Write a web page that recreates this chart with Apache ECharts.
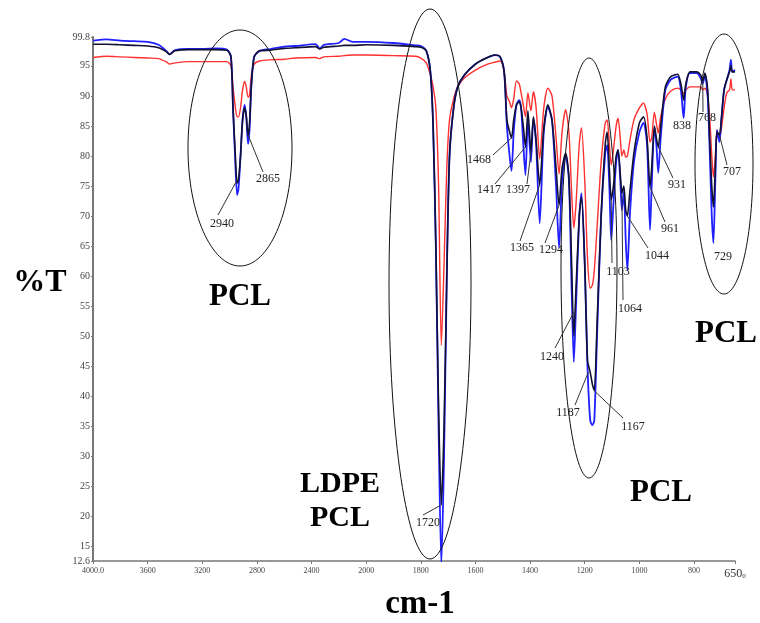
<!DOCTYPE html>
<html><head><meta charset="utf-8">
<script src="https://cdn.jsdelivr.net/npm/echarts@6/dist/echarts.min.js"></script>
<style>html,body{margin:0;padding:0;background:#fff}#c{width:760px;height:623px}</style>
</head><body><div id="c"></div>
<script>
// Wavenumbers (cm-1) and %T values of the three spectra
const wavenumbers = [4000,3900,3800,3700,3600,3520,3460,3440,3400,3300,3200,3100,3020,2990,2975,2960,2945,2935,2920,2905,2890,2878,2865,2855,2840,2820,2780,2700,2600,2520,2370,2340,2310,2200,2160,2100,2000,1900,1820,1800,1780,1765,1755,1745,1735,1725,1715,1705,1695,1680,1665,1640,1600,1560,1530,1510,1495,1485,1475,1468,1460,1450,1440,1433,1425,1417,1408,1397,1388,1378,1365,1350,1335,1320,1305,1294,1283,1270,1258,1248,1240,1232,1220,1212,1200,1190,1180,1172,1165,1155,1140,1125,1118,1110,1103,1095,1085,1078,1070,1064,1057,1050,1044,1035,1020,1000,985,972,961,955,945,938,931,922,905,885,860,848,838,830,815,790,776,768,760,750,742,735,729,722,716,707,700,690,680,670,665,660,650];
const tBlue = [99.2,99.4,99.2,99.1,99.0,98.5,97.4,96.9,97.6,97.8,97.8,97.9,97.7,96.5,88,80,73.5,74.5,80,86,88.5,86.5,82,84,92,96.5,97.5,97.8,98.2,98.3,98.6,97.9,98.5,98.8,99.5,99.0,99.0,98.8,98.4,98.3,97.5,94,85,65,35,12,30,60,80,88,91.5,93.5,95.3,96.3,96.8,96.5,94,85,80,77.5,84,88.5,89.3,88,82,76.8,86,79,86.3,82,68.8,84,88.2,86,75,64.7,76,80.2,76,58,45.7,55,70,73.8,62,45,36,35.2,36,50,70,80.5,81.8,75,66,72,79,81,76,71,74,66,61,70,79,84,85.5,82,67.7,75,84.8,82,77.2,83,91,92.7,93.2,91,86.3,91.5,93.8,93.8,93,92,93.5,90,80,70,65.5,76,84.3,82.3,86,91,92.7,94.3,96,94,94.3];
const tBlack = [98.6,98.6,98.5,98.4,98.3,98.0,97.3,96.9,97.5,97.7,97.7,97.7,97.6,96.5,88,81,75.5,76,80,86,88,86.7,83.5,85,92,96.5,97.5,97.6,97.9,98.0,98.2,97.8,98.1,98.3,98.4,98.4,98.5,98.4,98.2,98.1,97.5,94,85,65,38,22,35,60,80,88,91.5,93.5,95.3,96.3,96.8,96.5,94,86,84,83,86,88.5,89,88,85,81.5,87.5,80.7,86.5,82.5,75.2,84.5,88.5,86,78,71.8,78,80.5,76.5,62,50,58,70,73.2,62,46,44,42,41,52,70,82,84,78,72.7,75,80,81,77,73.8,75,71,70,74,80.5,85.5,86.5,83,74.8,78,85,83,81.5,85,91.5,93.2,93.6,92,89.3,92,94,94,93.5,92.5,93.8,91,82,75,71.5,78,84,83.5,86,91,92.7,94,95,94,94];
const tRed = [96.4,96.6,96.5,96.4,96.3,96.2,95.6,95.3,95.5,95.7,95.7,95.7,95.7,95.0,91.5,88.5,86.5,86.5,88,91,92.4,91.5,89.8,90,93.5,95.3,95.8,96.0,96.1,96.3,96.4,96.2,96.5,96.6,96.7,96.8,96.8,96.7,96.6,96.3,95.5,93.5,91.5,88,75,48.5,62,78,86,89.5,91.5,93,94.3,95.2,95.6,95.8,94,90,89,88,89.5,92.5,92,90.5,88.5,86.5,90.5,87.5,90.7,88,79.5,88,91.3,90,83,77,84,87.7,84,74,68,72,82,84.7,76,63,58,58.5,61,68,79,85.5,86,82,78.5,81,85,86.3,83,80,81,79.8,80,82.5,86,88,88.8,87,82.3,83,87.3,85.5,83.8,86.5,89.5,90.8,91.3,91,90.4,91,91.5,91.5,91.5,91,91.3,90,86,80,76.5,80,84.3,83,84.5,88,90.5,91,92.8,91,91];

// Axis tick labels
const yTickValues = [12.6,15,20,25,30,35,40,45,50,55,60,65,70,75,80,85,90,95,99.8];
const xTickWavenumbers = [4000,3600,3200,2800,2400,2000,1800,1600,1400,1200,1000,800,650];

// Peak annotations
const peakLabels = ['2940','2865','1468','1417','1397','1365','1294','1240','1187','1167','1103','1064','1044','961','931','838','768','707','729','1720'];
const peakAnchorWn = [2945,2865,1468,1417,1397,1365,1294,1240,1187,1167,1103,1064,1044,961,931,null,768,707,null,1722];
const peakAnchorT  = [76,83.5,83,81.5,80.7,75.2,71.8,54,44,41,72.7,73.8,70,74.8,81.5,null,92.5,83.5,null,22];

// ---- layout (pixels) ----
const labelPos = [[222,224],[268,179],[479,160],[489,190],[518,190],[522,248],[551,250],[552,357],[568,413],[633,427],[618,272],[630,309],[657,256],[670,229],[677,185],[682,126],[707,118],[732,172],[723,257],[428,523]];
const leaderStart = [[218,215],[263,172],[493,155],[495,184],[527,184],[520,241],[545,243],[555,348],[575,405],[623,418],[612,263],[623,300],[648,248],[665,222],[673,178],null,[703,112],[727,165],null,[423,515]];

// Piecewise wavenumber axis (2x expansion below 2000 cm-1)
function toU(w){ return w >= 2000 ? (4000 - w) / 2 : 1000 + (2000 - w); }
function fromU(u){ return u <= 1000 ? 4000 - 2*u : 2000 - (u - 1000); }

const SERIF = '"Liberation Serif","DejaVu Serif",serif';
const chart = echarts.init(document.getElementById('c'));
const mk = arr => wavenumbers.map((w,i)=>[toU(w), arr[i]]);
const xTickU = xTickWavenumbers.map(toU);

chart.setOption({
  animation:false,
  grid:{left:93,right:25,top:37,bottom:62},
  xAxis:{type:'value',min:0,max:2350,
    axisLine:{lineStyle:{color:'#777',width:1.5}},
    splitLine:{show:false},
    axisTick:{customValues:xTickU,length:3,lineStyle:{color:'#777'}},
    axisLabel:{customValues:xTickU,color:'#444',fontFamily:SERIF,fontSize:8,margin:6,
      formatter:v=>{const w=Math.round(fromU(v)); if(w===4000) return '4000.0'; if(w===650) return '{b|650}{s|0}'; return String(w);},
      rich:{b:{fontSize:12,fontFamily:SERIF,color:'#333'},s:{fontSize:7,fontFamily:SERIF,color:'#333',padding:[6,0,0,0]}}}
  },
  yAxis:{type:'value',min:12.6,max:99.8,
    axisLine:{show:true,lineStyle:{color:'#777',width:2}},
    splitLine:{show:false},
    axisTick:{show:true,customValues:yTickValues,length:2,lineStyle:{color:'#777'}},
    axisLabel:{customValues:yTickValues,color:'#444',fontFamily:SERIF,fontSize:10,margin:3,
      formatter:v=>String(v)}
  },
  series:[
    {type:'line',data:mk(tRed),symbol:'none',smooth:0.25,lineStyle:{color:'#ff3030',width:1.4},z:2},
    {type:'line',data:mk(tBlue),symbol:'none',smooth:0.25,lineStyle:{color:'#1f1fff',width:1.8},z:3},
    {type:'line',data:mk(tBlack),symbol:'none',smooth:0.25,lineStyle:{color:'#111133',width:1.6},z:4}
  ]
});

const g = [];
// ellipses
[[240,148,52,118],[430,284,41,275],[589,268,28,210],[724,164,29,130]].forEach(e=>{
  g.push({type:'ellipse',shape:{cx:e[0],cy:e[1],rx:e[2],ry:e[3]},style:{fill:null,stroke:'#111',lineWidth:1},z:10});
});
// peak labels + leaders
peakLabels.forEach((t,i)=>{
  if(peakAnchorWn[i]!==null && leaderStart[i]){
    const p = chart.convertToPixel({gridIndex:0},[toU(peakAnchorWn[i]),peakAnchorT[i]]);
    g.push({type:'line',shape:{x1:leaderStart[i][0],y1:leaderStart[i][1],x2:p[0],y2:p[1]},style:{stroke:'#333',lineWidth:1},z:11});
  }
  g.push({type:'text',x:labelPos[i][0],y:labelPos[i][1],style:{text:t,font:'12px '+SERIF,fill:'#222',align:'center',verticalAlign:'middle'},z:12});
});
// big titles
const big = [['%T',40,283,32],['cm-1',420,604,33],['PCL',240,297,31],['PCL',726,334,31],['PCL',661,493,31],['LDPE',340,484,30],['PCL',340,518,30]];
big.forEach(b=>g.push({type:'text',x:b[1],y:b[2],style:{text:b[0],font:'bold '+b[3]+'px '+SERIF,fill:'#000',align:'center',verticalAlign:'middle'},z:12}));
chart.setOption({graphic:g});
</script></body></html>
